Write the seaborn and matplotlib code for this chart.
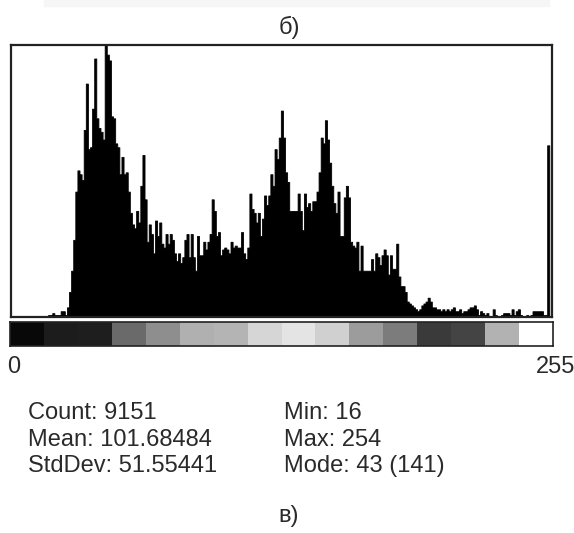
import numpy as np
import pandas as pd
import seaborn as sns
import matplotlib.pyplot as plt
from matplotlib.colors import ListedColormap
from matplotlib.patches import Rectangle

# ---- data (256 grey levels) ----
levels = list(range(256))
counts = (
    [0] * 16
    + [1, 1, 2, 1, 1, 1, 3, 3, 1, 5, 13, 24, 40]                     # 16-28
    + [65, 76, 74, 71, 97, 121, 87, 88, 108, 134, 103, 98]           # 29-40
    + [96, 92, 141, 136, 133, 104, 103, 90, 88, 74]                  # 41-50
    + [83, 74, 75, 65, 54, 48, 46, 55, 49, 68]                       # 51-60
    + [84, 61, 39, 48, 43, 33, 50, 42, 49, 38]                       # 61-70
    + [36, 43, 38, 43, 40, 33, 29, 33, 28, 31, 40, 43, 31]           # 71-83
    + [43, 31, 24, 42, 32, 32, 39, 35, 39, 43, 61, 55, 42, 44]       # 84-97
    + [32, 35, 36, 35, 33, 39, 36, 37, 36, 36, 44, 33, 30, 36]       # 98-111
    + [64, 56, 54, 49, 54, 42, 51, 63, 58, 63, 74, 68, 87, 82, 93, 107]  # 112-127
    + [93, 75, 70, 55, 55, 55, 55, 64, 55, 45, 64, 57, 59, 55, 60, 60,
       65, 75, 93, 90, 102]                                          # 128-148
    + [92, 80, 68, 59, 54, 65, 42, 42, 62, 68, 62, 39, 37, 36, 39, 24,
       37, 24, 24, 24, 24, 30]                                       # 149-170
    + [24, 33, 31, 27, 32, 35, 32, 22, 32, 25, 25, 38]               # 171-182
    + [21, 16, 16, 13, 8, 7, 6, 5, 4, 3, 4, 6, 7, 8, 10, 8, 5, 5, 4, 4,
       3, 4, 3, 4, 3, 4, 5, 3, 3, 4]                                 # 183-212
    + [2, 3, 3, 4, 5, 5, 6, 4, 1, 3, 2, 1, 2, 0, 0, 4, 1, 0, 0, 1,
       2, 2, 2, 1, 4, 1, 3, 4, 1, 0, 0, 1, 0, 1, 3, 3, 3, 3, 3, 1, 1]  # 213-253
    + [89, 0]                                                        # 254-255
)
assert len(counts) == 256

# lookup table strip under the histogram (16 steps)
lut_grays = ["#080808", "#1c1c1c", "#1e1e1e", "#6a6a6a", "#8e8e8e", "#b0b0b0",
             "#b4b4b4", "#d6d6d6", "#e4e4e4", "#d0d0d0", "#9c9c9c", "#7c7c7c",
             "#3a3a3a", "#444444", "#b2b2b2", "#ffffff"]

axis_labels = ["0", "255"]
stats_left = ["Count: 9151", "Mean: 101.68484", "StdDev: 51.55441"]
stats_right = ["Min: 16", "Max: 254", "Mode: 43 (141)"]
top_caption = "б)"
bottom_caption = "в)"

df = pd.DataFrame({"level": levels, "count": counts})

sns.set_style("white")
plt.rcParams["font.family"] = ["Liberation Sans", "DejaVu Sans"]

W, H = 574, 533
fig = plt.figure(figsize=(W / 100, H / 100), dpi=100)


def box(x0, y0, x1, y1):
    # pixel box (top-left origin) -> figure fraction
    return [x0 / W, 1 - y1 / H, (x1 - x0) / W, (y1 - y0) / H]


def put(x, y, s, size=17, **kw):
    # text at pixel position, y measured from the top
    fig.text(x / W, 1 - y / H, s, color="#2a2a2a", fontsize=size, **kw)


# faint strip at the very top (edge of the previous panel)
fig.patches.append(Rectangle((44 / W, 1 - 6 / H), 505 / W, 6 / H,
                             transform=fig.transFigure, color="#f6f6f6", zorder=0))

# ---- histogram ----
ax = fig.add_axes(box(11, 45, 552, 317))
sns.histplot(data=df, x="level", weights="count", binwidth=1, binrange=(0, 256),
             element="step", fill=True, color="black", alpha=1,
             linewidth=0.6, ax=ax)
ax.set_xlim(-1.67, 256.3)
ax.set_ylim(0, 141)
ax.set_xticks([])
ax.set_yticks([])
ax.set_xlabel("")
ax.set_ylabel("")
for sp in ax.spines.values():
    sp.set_visible(True)
    sp.set_color("#222222")
    sp.set_linewidth(1.6)

# ---- LUT bar ----
cax = fig.add_axes(box(10, 322, 553, 346))
sns.heatmap(np.array([levels]), cmap=ListedColormap(lut_grays), vmin=0, vmax=256,
            cbar=False, xticklabels=False, yticklabels=False, ax=cax)
for sp in cax.spines.values():
    sp.set_visible(True)
    sp.set_color("#222222")
    sp.set_linewidth(1.2)

put(289, 34, top_caption, ha="center", va="baseline")
put(7, 373, axis_labels[0], ha="left", va="baseline")
put(575, 373, axis_labels[1], ha="right", va="baseline")

for i, (l, r) in enumerate(zip(stats_left, stats_right)):
    base = 419 + 26.5 * i
    put(28, base, l, ha="left", va="baseline")
    put(284, base, r, ha="left", va="baseline")

put(289, 522, bottom_caption, ha="center", va="baseline")

fig.savefig("out.png", dpi=100)
